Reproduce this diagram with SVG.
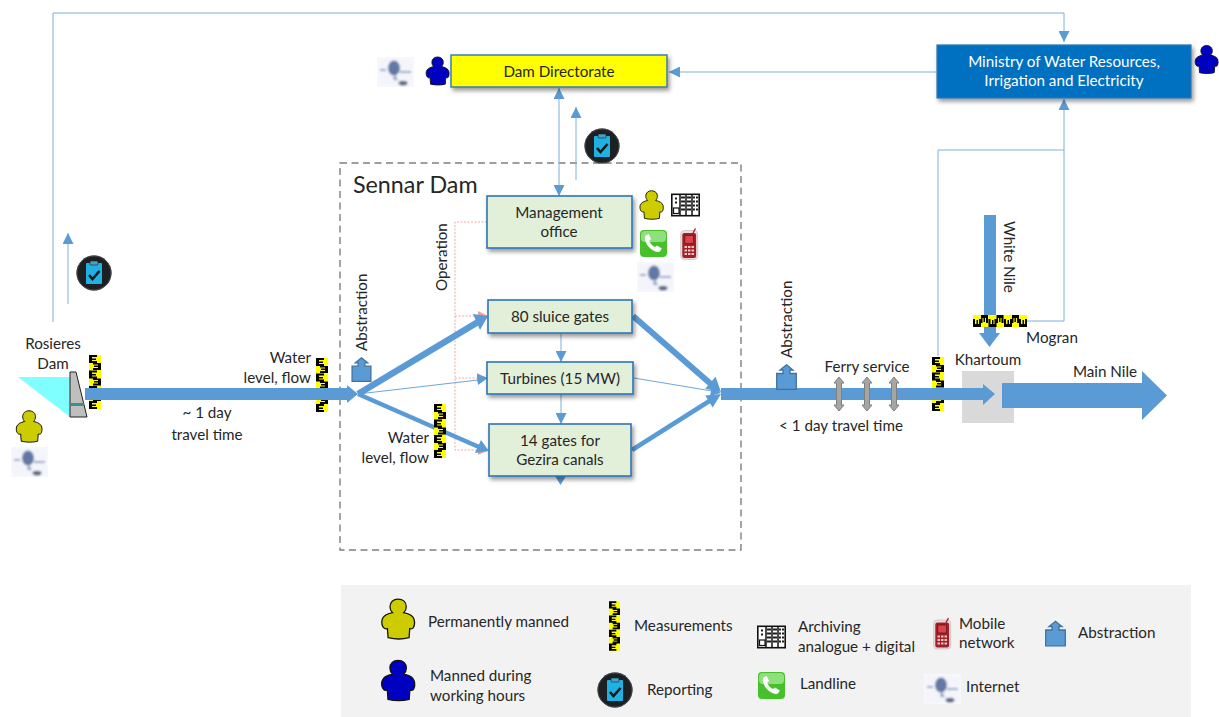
<svg xmlns="http://www.w3.org/2000/svg" width="1219" height="717" viewBox="0 0 1219 717">
<style>
text{font-family:"Lato","Carlito","Liberation Sans",sans-serif;font-size:15.2px;fill:#262626;text-anchor:middle}
.l{text-anchor:start}
.e{text-anchor:end}
.thin{fill:none;stroke:#7fb0dc;stroke-width:1}
.fine{fill:none;stroke:#5b9bd5;stroke-width:.9}
.thick{fill:none;stroke:#5b9bd5}
.red{fill:none;stroke:#f79a9a;stroke-width:.9;stroke-dasharray:2 1.5}
.box{fill:#e2efd9;stroke:#2e75b6;stroke-width:1.600;filter:url(#sh)}
.bl{fill:#5b9bd5}
.pk{fill:#f79a9a}
</style>
<defs>
<filter id="sh" x="-10%" y="-20%" width="125%" height="150%"><feDropShadow dx="2" dy="3" stdDeviation="2.200" flood-color="#000" flood-opacity=".4"/></filter>
<filter id="bl2" x="-10%" y="-10%" width="120%" height="120%"><feGaussianBlur stdDeviation="1.100"/></filter>
<marker id="ah" viewBox="0 0 10 10" refX="10" refY="5" markerWidth="11" markerHeight="11" markerUnits="userSpaceOnUse" orient="auto-start-reverse"><path d="M0 0L10 5L0 10Z" fill="#5b9bd5"/></marker>
<symbol id="person" viewBox="0 0 28 33" overflow="visible"><path d="M14 .8c4 0 6.500 2.500 6.500 6 0 2-.8 3.600-2 4.700 4 .8 7.500 2.500 8.200 5.500.6 2.500.2 5-.7 6.500-.8.800-2 .8-2.800.5l-.5 7.200c-5 1.300-11 1.300-16.500 0l-.5-7.200c-1 .3-2.100.3-2.800-.5C1.400 22 1 19.500 1.500 17c.8-3 4.300-4.700 8.200-5.500-1.200-1.100-2-2.700-2-4.700 0-3.500 2.600-6 6.300-6z" fill="currentColor" stroke="#14140a" stroke-width="1"/></symbol>
<symbol id="ruler" viewBox="0 0 12 54"><rect width="12" height="54" fill="#ff0"/><path id="rm" fill="#000" d="M0 0h8v2H3v1.500h4v1.500H3v1H8v2H0zM4 8h8v7H4v-2h5v-1H5v-1.500h4V9.500H4zM0 15.500h8v2H3v1.500h4v1.500H3v1H8v2H0zM4 23.500h8v7H4v-2h5v-1H5v-1.500h4V25H4zM0 31h8v2H3v1.500h4v1.500H3v1H8v2H0zM4 39h8v7H4v-2h5v-1H5v-1.500h4V40.500H4zM0 46h8v2H3v1.500h4v1.500H3v1H8v2H0z"/></symbol>
<symbol id="clip" viewBox="0 0 36 36"><circle cx="18" cy="18" r="17.500" fill="#1d2023"/><circle cx="18" cy="18" r="17" fill="none" stroke="#4a4d50" stroke-width="1"/><rect x="10" y="8" width="16" height="21" rx="1" fill="#1fb1e2"/><rect x="14" y="6" width="8" height="4" rx="1" fill="#4aa0c0" stroke="#123" stroke-width=".6"/><path d="M13 20l3.500 4 7-8" fill="none" stroke="#10181c" stroke-width="2.600"/></symbol>
<symbol id="phone" viewBox="0 0 27 27"><rect width="27" height="27" rx="4" fill="#46c12c"/><rect x="1" y="1" width="25" height="11" rx="4" fill="#8fe07c"/><path d="M5.500 5.500l3.200-1.500 2.400 5-1.800 1.800c1 2.800 3 5 5.700 6.300l2-1.700 4.800 3-1.800 3.200c-2 .9-4.500.4-7.500-1.500-4-2.500-7-6.800-7.500-10.800-.2-1.300 0-2.600.5-3.800z" fill="#fff"/></symbol>
<symbol id="mobile" viewBox="0 0 19 32"><rect x=".7" y="2.500" width="17" height="29" rx="3.500" fill="#eadede" stroke="#c9b9b9" stroke-width=".7"/><rect x="2.300" y="5" width="13.800" height="25" rx="2" fill="#a11f26"/><path d="M13 5l2.500-4.500" stroke="#a11f26" stroke-width="1.300"/><rect x="4.800" y="7.500" width="8.800" height="8" fill="#d9434a" stroke="#5e1014" stroke-width=".7"/><g fill="#f0c8c8"><rect x="4.500" y="18" width="2.500" height="2"/><rect x="8" y="18" width="2.500" height="2"/><rect x="11.500" y="18" width="2.500" height="2"/><rect x="4.500" y="21.500" width="2.500" height="2"/><rect x="8" y="21.500" width="2.500" height="2"/><rect x="11.500" y="21.500" width="2.500" height="2"/><rect x="4.500" y="25" width="2.500" height="2"/><rect x="8" y="25" width="2.500" height="2"/><rect x="11.500" y="25" width="2.500" height="2"/></g></symbol>
<symbol id="arch" viewBox="0 0 29 23"><rect x=".8" y=".8" width="27.400" height="21.400" fill="#fff" stroke="#111" stroke-width="1.600"/><path d="M9 1v21M15 1v21M21 1v21" stroke="#111" stroke-width="1.500"/><rect x="2.500" y="14.500" width="5.500" height="5.500" fill="#fff" stroke="#111" stroke-width="1.200"/><path d="M5 4v2M5 8v2M11 3v2M13 3v2M11 7v2M13 7v2M11 11v2M13 11v2M11 15v2M13 15v2M17 3v2M19 3v2M17 7v2M19 7v2M17 11v2M19 11v2M17 15v2M19 15v2M23 3v2M26 3v2M23 7v2M26 7v2M23 11v2M26 11v2M23 15v2M26 15v2" stroke="#111" stroke-width="1.900"/></symbol>
<symbol id="net" viewBox="0 0 37 30"><rect width="37" height="30" fill="#f7f8fc"/><g filter="url(#bl2)"><rect x="2" y="2" width="33" height="26" fill="#f3f5fb"/><ellipse cx="17" cy="11" rx="6" ry="7.500" fill="#6478a4"/><path d="M9 13H3M23 15h11M17 18l3 5" stroke="#98a6c0" stroke-width="1.800"/><ellipse cx="26" cy="26" rx="4.500" ry="2.300" fill="#5e6880"/><ellipse cx="18" cy="21.500" rx="2" ry="1.700" fill="#9aa6bc"/></g></symbol>
<symbol id="abs" viewBox="0 0 21 26"><path d="M.7 9.500h6.300V6H4L10.500 .8 17 6h-3v3.500h6.300v15.800H.7z" fill="#5b9bd5" stroke="#41719c" stroke-width="1.300"/></symbol>
<g id="ferry"><path d="M0 0l5 6H2.500v22H5l-5 6-5-6h2.500V6H-5z" fill="#a5a5a5" stroke="#7f7f7f" stroke-width="1"/></g>
</defs>

<rect width="1219" height="717" fill="#fff"/>
<rect id="legend-bg" x="341" y="585" width="850" height="132" fill="#f2f2f2"/>
<rect id="sennar-boundary" x="340" y="163" width="401" height="387" fill="none" stroke="#7f7f7f" stroke-width="1.400" stroke-dasharray="7 4.500"/>
<text class="l" x="353" y="193" style="font-size:23.300px">Sennar Dam</text>

<g id="connectors">
<path class="thin" d="M53 322V13H1064V42" marker-end="url(#ah)"/>
<path class="thin" d="M68 304V233" marker-end="url(#ah)"/>
<path class="thin" d="M936 72H669" marker-end="url(#ah)"/>
<path class="thin" d="M559 88V196" marker-start="url(#ah)" marker-end="url(#ah)"/>
<path class="thin" d="M576 180V107" marker-end="url(#ah)"/>
<path class="thin" d="M938 356V150H1064V99" marker-end="url(#ah)"/>
<path class="thin" d="M1027 321H1064V150"/>
<path class="red" d="M487 222H455V450H482M455 316H482M455 378H482"/>
<path class="pk" d="M478 311l10 5-10 3zM477 373l10 5-10 4zM478 446l11 4-11 5z"/>
<path class="thin" d="M561 333V362" marker-end="url(#ah)"/>
<path class="thin" d="M561 394V424" marker-end="url(#ah)"/>
<path class="bl" d="M555 476h11l-5.500 9z"/>
<path class="thick" style="stroke-width:12" d="M88 394H349"/>
<path class="bl" d="M347 385l11 9-11 9z"/>
<path class="thick" style="stroke-width:6.500" d="M358 394L478 322"/>
<path class="bl" d="M473 314l15 2-8 14z"/>
<path class="fine" d="M358 394L478 380"/>
<path class="bl" d="M477 374l11 4-10 7z"/>
<path class="thick" style="stroke-width:4.500" d="M358 394L479 447"/>
<path class="bl" d="M481 440l8 11-14 2z"/>
<path class="thick" style="stroke-width:6" d="M633 316L712 385"/>
<path class="bl" d="M715.600 376.800L721 392L705.200 388.800z"/>
<path class="fine" d="M634 378L712 391"/>
<path class="bl" d="M712 386L721 393L710 396z"/>
<path class="thick" style="stroke-width:4.500" d="M632 450L711 400"/>
<path class="bl" d="M705.300 395.400L721 394L712.700 407.400z"/>
<path class="thick" style="stroke-width:12" d="M721 394H984"/>
<path class="bl" d="M983 384l12 10-12 11z"/>
<path class="thick" style="stroke-width:12" d="M990 215V334"/>
<path class="bl" d="M979 333h21l-10.500 14z"/>
</g>

<g id="rosieres-dam">
<path d="M18 377H70V417z" fill="#7fffff"/>
<path d="M70 372H76L87 417H70z" fill="#bfbfbf" stroke="#222" stroke-width="1"/>
<rect x="71" y="403" width="13" height="3" fill="#3a8f8f"/>
<text x="53" y="349">Rosieres</text><text x="53" y="369">Dam</text>
<use href="#ruler" x="89" y="355" width="12" height="54"/>
<rect x="85" y="388" width="20" height="12" fill="#5b9bd5"/>
<use href="#person" x="15" y="410" width="28" height="33" color="#cccc00"/>
<use href="#net" x="11" y="447" width="37" height="30"/>
<use href="#clip" x="76" y="255" width="36" height="36"/>
</g>

<g id="reach-upstream">
<text x="207" y="418">~ 1 day</text><text x="207" y="440">travel time</text>
<text class="e" x="311" y="363">Water</text><text class="e" x="311" y="383">level, flow</text>
<use href="#ruler" x="316" y="358" width="12" height="54"/>
<rect x="312" y="388" width="20" height="12" fill="#5b9bd5"/>
<use href="#abs" x="351" y="357" width="21" height="25"/>
<text transform="translate(367 351) rotate(-90)" class="l">Abstraction</text>
</g>

<g id="dam-directorate">
<rect x="451" y="55" width="216" height="32" fill="#ff0" stroke="#2e75b6" stroke-width="1.400" filter="url(#sh)"/>
<text x="559" y="77">Dam Directorate</text>
<use href="#person" x="425" y="56" width="25" height="30" color="#0000c0"/>
<use href="#net" x="377" y="57" width="37" height="30"/>
<use href="#clip" x="584" y="128" width="36" height="36"/>
</g>

<g id="ministry">
<rect x="937" y="45" width="254" height="53" fill="#0070c0" stroke="#2e75b6" stroke-width="1.200" filter="url(#sh)"/>
<text x="1064" y="67" style="fill:#fff">Ministry of Water Resources,</text>
<text x="1064" y="86" style="fill:#fff">Irrigation and Electricity</text>
<use href="#person" x="1194" y="44" width="25" height="31" color="#0000c0"/>
</g>

<g id="management-office">
<rect class="box" x="487" y="196" width="145" height="52"/>
<text x="559" y="218">Management</text><text x="559" y="237">office</text>
<use href="#person" x="638" y="190" width="27" height="30" color="#cccc00"/>
<use href="#arch" x="671" y="193" width="29" height="24"/>
<use href="#phone" x="640" y="230" width="27" height="27"/>
<use href="#mobile" x="680" y="228" width="19" height="32"/>
<use href="#net" x="637" y="262" width="37" height="30"/>
<text transform="translate(447 291) rotate(-90)" class="l">Operation</text>
</g>
<g id="sluice-gates"><rect class="box" x="488" y="300" width="144" height="33"/><text x="560" y="322">80 sluice gates</text></g>
<g id="turbines"><rect class="box" x="487" y="362" width="146" height="32"/><text x="560" y="384">Turbines (15 MW)</text></g>
<g id="gezira-gates"><rect class="box" x="489" y="424" width="142" height="52"/><text x="560" y="446">14 gates for</text><text x="560" y="465">Gezira canals</text></g>
<g id="sennar-level">
<use href="#ruler" x="434" y="404" width="12" height="54"/>
<text class="e" x="429" y="443">Water</text><text class="e" x="429" y="463">level, flow</text>
</g>

<g id="reach-downstream">
<use href="#abs" x="776" y="364" width="21" height="26"/>
<text transform="translate(792 358) rotate(-90)" class="l">Abstraction</text>
<text x="867" y="372">Ferry service</text>
<use href="#ferry" x="839" y="377"/><use href="#ferry" x="867" y="377"/><use href="#ferry" x="894" y="377"/>
<text x="841" y="431">&lt; 1 day travel time</text>
<use href="#ruler" x="932" y="357" width="12" height="54"/>
<rect x="928" y="388" width="20" height="12" fill="#5b9bd5"/>
</g>

<g id="khartoum">
<rect x="962" y="371" width="52" height="52" fill="#d9d9d9"/>
<path class="bl" d="M962 388h21v-4l12 10-12 11v-5h-21z"/>
<text x="988" y="365">Khartoum</text>
<path class="bl" d="M1002 383H1142V371L1167 395.500L1142 420V408H1002z"/>
<text x="1105" y="377">Main Nile</text>
</g>
<g id="white-nile">
<text transform="translate(1004 221) rotate(90)" class="l">White Nile</text>
<use href="#ruler" width="12" height="54" transform="translate(973 327) rotate(-90)"/>
<text x="1052" y="343">Mogran</text>
</g>

<g id="legend">
<use href="#person" x="380" y="598" width="36" height="42" color="#cccc00"/>
<text class="l" x="428" y="627">Permanently manned</text>
<use href="#person" x="380" y="659" width="36" height="43" color="#0000c0"/>
<text class="l" x="430" y="681">Manned during</text><text class="l" x="430" y="701">working hours</text>
<use href="#ruler" x="609" y="600" width="11" height="52"/>
<text class="l" x="634" y="631">Measurements</text>
<use href="#clip" x="597" y="672" width="36" height="36"/>
<text class="l" x="647" y="695">Reporting</text>
<use href="#arch" x="757" y="625" width="29" height="24"/>
<text class="l" x="798" y="632">Archiving</text><text class="l" x="798" y="652">analogue + digital</text>
<use href="#phone" x="758" y="672" width="27" height="27"/>
<text class="l" x="800" y="689">Landline</text>
<use href="#mobile" x="933" y="617" width="19" height="33"/>
<text class="l" x="959" y="629">Mobile</text><text class="l" x="959" y="648">network</text>
<use href="#net" x="924" y="674" width="37" height="30"/>
<text class="l" x="966" y="692">Internet</text>
<use href="#abs" x="1045" y="620" width="21" height="27"/>
<text class="l" x="1078" y="638">Abstraction</text>
</g>
</svg>
